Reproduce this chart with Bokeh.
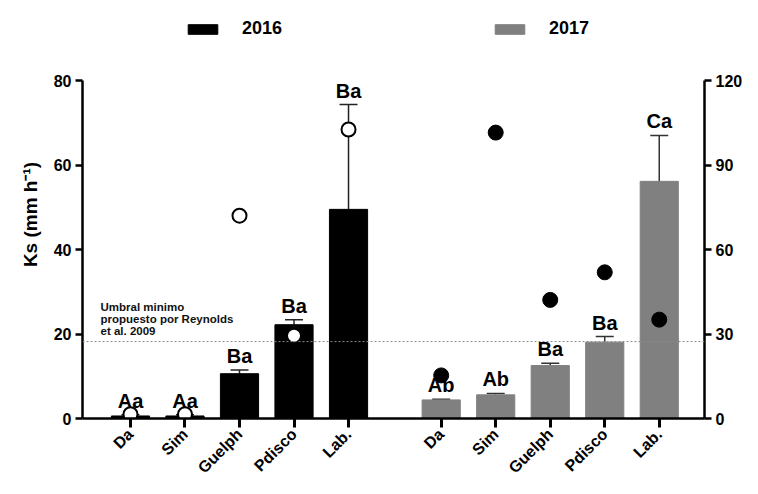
import numpy as np
from math import pi
from bokeh.plotting import figure
from bokeh.models import (Range1d, LinearAxis, FixedTicker, ColumnDataSource, Whisker,
                          TeeHead, Span, Label, LabelSet, Legend, LegendItem)
from bokeh.core.properties import value
from bokeh.embed import file_html
from bokeh.resources import INLINE

# ---------------- data ----------------
methods = ["Da", "Sim", "Guelph", "Pdisco", "Lab."]
ks_2016 = [0.6, 0.6, 10.6, 22.2, 49.5]        # left axis
err_2016 = [0.3, 0.3, 0.9, 1.2, 24.8]
pts_2016 = [1.0, 1.0, 48.0, 19.6, 68.4]        # open circles, left axis
letters_2016 = ["Aa", "Aa", "Ba", "Ba", "Ba"]

ks_2017 = [6.6, 8.4, 18.8, 27.1, 84.2]         # right axis
err_2017 = [0.2, 0.5, 0.8, 2.0, 16.3]
pts_2017 = [15.3, 101.5, 42.1, 51.9, 35.1]     # filled circles, right axis
letters_2017 = ["Ab", "Ab", "Ba", "Ba", "Ca"]

threshold = 18.2
left_ticks = [0, 20, 40, 60, 80]
right_ticks = [0, 30, 60, 90, 120]

# ---------------- layout ----------------
FONT = "Liberation Sans"
x16 = [float(i) for i in range(5)]
x17 = [round(i + 5.7, 2) for i in range(5)]

AXIS_PX = 338          # pixel height of the 0..80 axis
EXTRA_PX = 70          # room above the axes for the legend
left_end = 80 * (AXIS_PX + EXTRA_PX) / AXIS_PX
right_end = 120 * (AXIS_PX + EXTRA_PX) / AXIS_PX

src16 = ColumnDataSource(dict(x=x16, top=ks_2016, upper=[a + b for a, b in zip(ks_2016, err_2016)],
                              pts=pts_2016, letter=letters_2016))
src17 = ColumnDataSource(dict(x=x17, top=ks_2017, upper=[a + b for a, b in zip(ks_2017, err_2017)],
                              pts=pts_2017, letter=letters_2017))

p = figure(width=750, height=486, output_backend="svg", toolbar_location=None,
           x_range=Range1d(-0.88, 10.53), y_range=Range1d(0, left_end),
           min_border_left=82, min_border_right=46, min_border_top=10, min_border_bottom=68)
p.extra_y_ranges = {"right": Range1d(0, right_end)}
p.outline_line_color = None
p.xgrid.grid_line_color = None
p.ygrid.grid_line_color = None
p.background_fill_color = "white"

# threshold line
p.add_layout(Span(location=threshold, dimension="width", line_color="#8a8a8a",
                  line_width=1, line_dash="2 2"))

# bars
r16 = p.vbar(x="x", top="top", width=0.7, source=src16, fill_color="black", line_color="black")
r17 = p.vbar(x="x", top="top", width=0.7, source=src17, fill_color="#808080", line_color="#808080",
             y_range_name="right")

# error bars
w16 = Whisker(source=src16, base="x", upper="upper", lower="top", dimension="height",
              line_color="#222222", line_width=1.5, lower_head=None,
              upper_head=TeeHead(size=18, line_width=1.5, line_color="#222222"))
w17 = Whisker(source=src17, base="x", upper="upper", lower="top", dimension="height",
              line_color="#333333", line_width=1.5, lower_head=None, y_range_name="right",
              upper_head=TeeHead(size=18, line_width=1.5, line_color="#333333"))
p.add_layout(w16)
p.add_layout(w17)

# points
p.scatter(x="x", y="pts", source=src16, size=14, fill_color="white", line_color="black", line_width=2)
p.scatter(x="x", y="pts", source=src17, size=15, fill_color="black", line_color="black",
          y_range_name="right")

# letters
for src, rng in ((src16, "default"), (src17, "right")):
    p.add_layout(LabelSet(x="x", y="upper", text="letter", source=src, y_range_name=rng,
                          y_offset=3, text_align="center", text_baseline="bottom",
                          text_font=value(FONT), text_font_size="20px", text_font_style="bold",
                          text_color="black"))

# threshold note
p.add_layout(Label(x=-0.55, y=27.7, text="Umbral minimo\npropuesto por Reynolds\net al. 2009",
                   text_font=FONT, text_font_size="11.5px", text_font_style="bold",
                   text_color="#111111",
                   text_baseline="top", text_align="left", text_line_height=1.0))

# axes styling
ticks_all = x16 + x17
p.xaxis.ticker = FixedTicker(ticks=ticks_all)
p.xaxis.major_label_overrides = {t: m for t, m in zip(ticks_all, methods + methods)}
p.xaxis.major_label_orientation = pi / 4
p.xaxis.minor_tick_line_color = None
p.xaxis.major_tick_in = 0
p.xaxis.major_tick_out = 9
p.xaxis.major_tick_line_width = 3
p.xaxis.axis_line_width = 2.5
p.xaxis.major_label_text_font = FONT
p.xaxis.major_label_text_font_size = "16px"
p.xaxis.major_label_text_font_style = "bold"
p.xaxis.major_label_text_color = "black"
p.xaxis.major_label_standoff = 4

p.yaxis.ticker = FixedTicker(ticks=left_ticks)
p.yaxis.bounds = (0, 80)
ax_r = LinearAxis(y_range_name="right", ticker=FixedTicker(ticks=right_ticks), bounds=(0, 120))
p.add_layout(ax_r, "right")
for ax in (p.yaxis[0], ax_r):
    ax.minor_tick_line_color = None
    ax.major_tick_in = 0
    ax.major_tick_out = 7
    ax.major_tick_line_width = 2.5
    ax.axis_line_width = 2.5
    ax.major_label_text_font = FONT
    ax.major_label_text_font_size = "16px"
    ax.major_label_text_font_style = "bold"
    ax.major_label_text_color = "black"
    ax.major_label_standoff = 4

# y-axis title
p.yaxis[0].axis_label = "Ks (mm h\u207b\u00b9)"
p.yaxis[0].axis_label_text_font = FONT
p.yaxis[0].axis_label_text_font_size = "19px"
p.yaxis[0].axis_label_text_font_style = "bold"
p.yaxis[0].axis_label_text_color = "black"
p.yaxis[0].axis_label_standoff = 10

# legend
legend = Legend(items=[LegendItem(label="2016", renderers=[r16]),
                       LegendItem(label="2017", renderers=[r17])],
                orientation="horizontal", location=(102, 379), spacing=209,
                glyph_width=37, glyph_height=12, label_standoff=21,
                label_text_font=FONT, label_text_font_size="18px", label_text_font_style="bold",
                label_text_color="black",
                padding=0, margin=0, border_line_color=None, background_fill_alpha=0)
p.add_layout(legend)

open("out.html", "w").write(file_html(p, INLINE))
